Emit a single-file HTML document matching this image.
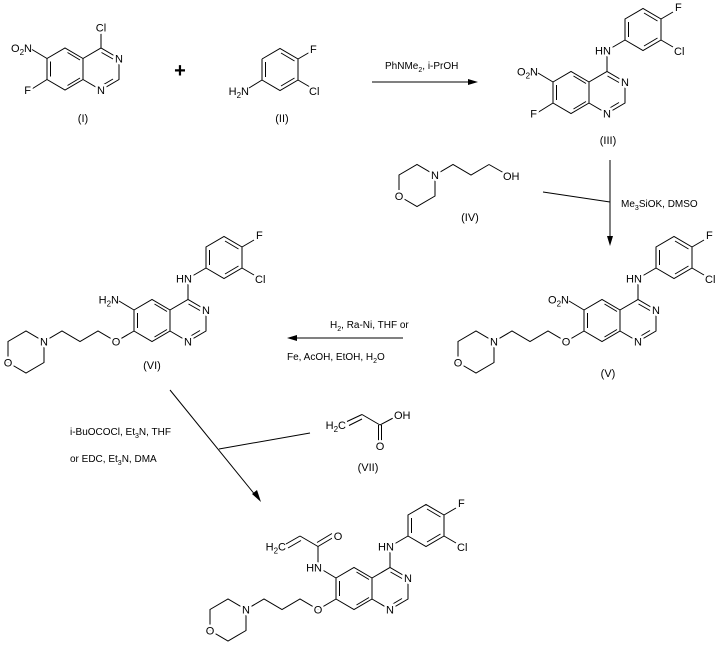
<!DOCTYPE html>
<html><head><meta charset="utf-8"><style>
html,body{margin:0;padding:0;background:#fff;}
svg{display:block;}
text{font-family:"Liberation Sans",Arial,sans-serif;font-size:11px;fill:#000;}
.l{paint-order:stroke;stroke:#fff;stroke-width:5px;stroke-linejoin:round;}
line,polyline,polygon.s{stroke:#000;stroke-width:1;fill:none;}
</style></head><body>
<svg width="720" height="651" viewBox="0 0 720 651" xmlns="http://www.w3.org/2000/svg">
<defs>
<g id="quin">
<polyline points="0,0 -18,-10.5 -36,0 -36,21 -18,31.5 0,21 0,0 18,-10.5 36,0 36,21 18,31.5 0,21"/>
<line x1="-15.5" y1="-6" x2="-3" y2="1.5"/>
<line x1="-32.5" y1="3" x2="-32.5" y2="18"/>
<line x1="-15.5" y1="27" x2="-3" y2="19.5"/>
<line x1="18.5" y1="-6" x2="30" y2="0.5"/>
<line x1="19" y1="27" x2="30" y2="20.5"/>
</g>
<g id="anil">
<line x1="18" y1="-10.5" x2="18" y2="-31.5"/>
<line x1="18" y1="-31.5" x2="36" y2="-42"/>
<polyline points="36,-42 36,-63 54,-73.5 72,-63 72,-42 54,-31.5 36,-42"/>
<line x1="39.5" y1="-60" x2="39.5" y2="-45"/>
<line x1="55" y1="-69" x2="68.5" y2="-61"/>
<line x1="68.5" y1="-44" x2="55" y2="-36"/>
<line x1="72" y1="-63" x2="84" y2="-70"/>
<line x1="72" y1="-42" x2="84" y2="-35"/>
</g>
<g id="chain">
<polyline points="-36,21 -54,31.5 -72,21 -90,31.5 -108,21 -126,31.5 -144,21 -162,31.5 -162,52.5 -144,63 -126,52.5 -126,31.5"/>
<line x1="-36" y1="0" x2="-51" y2="-9"/>
</g>
</defs>

<!-- Compound I -->
<g transform="translate(83,58.5)">
<use href="#quin"/>
<line x1="18" y1="-10.5" x2="18" y2="-27"/>
<line x1="-36" y1="0" x2="-51" y2="-9"/>
<line x1="-36" y1="21" x2="-52" y2="31"/>
<text class="l" x="36" y="4" text-anchor="middle">N</text>
<text class="l" x="18" y="35.5" text-anchor="middle">N</text>
<text class="l" x="18" y="-27" text-anchor="middle">Cl</text>
<text x="-51" y="-6.5" text-anchor="end">O<tspan font-size="8" dy="3">2</tspan><tspan dy="-3">N</tspan></text>
<text class="l" x="-52" y="35.5" text-anchor="end">F</text>
</g>
<text x="83" y="122" text-anchor="middle">(I)</text>
<text x="180" y="77" text-anchor="middle" style="font-size:20px;font-weight:bold">+</text>

<!-- Compound II -->
<polyline points="262,59 280,48.5 298,59 298,80 280,90.5 262,80 262,59"/>
<line x1="265.5" y1="62" x2="265.5" y2="77"/>
<line x1="281" y1="53" x2="294.5" y2="61"/>
<line x1="294.5" y1="78" x2="281" y2="86"/>
<line x1="298" y1="59" x2="310" y2="52"/>
<line x1="298" y1="80" x2="310" y2="87"/>
<line x1="262" y1="80" x2="249" y2="88"/>
<text class="l" x="310" y="53">F</text>
<text class="l" x="309" y="95">Cl</text>
<text x="249" y="95" text-anchor="end">H<tspan font-size="8" dy="3">2</tspan><tspan dy="-3">N</tspan></text>
<text x="282" y="122" text-anchor="middle">(II)</text>

<!-- Arrow 1 -->
<line x1="372" y1="82" x2="472" y2="82"/>
<polygon points="478,82 468,79 468,85" fill="#000"/>
<text x="385" y="69" style="font-size:10px">PhNMe<tspan font-size="7" dy="3">2</tspan><tspan dy="-3">, i-PrOH</tspan></text>

<!-- Compound III -->
<g transform="translate(589,82)">
<use href="#quin"/><use href="#anil"/>
<line x1="-36" y1="0" x2="-51" y2="-9"/>
<line x1="-36" y1="21" x2="-52" y2="31"/>
<text class="l" x="36" y="4" text-anchor="middle">N</text>
<text class="l" x="18" y="35.5" text-anchor="middle">N</text>
<text class="l" x="14" y="-27.5" text-anchor="middle">HN</text>
<text class="l" x="86" y="-71">F</text>
<text class="l" x="85" y="-27">Cl</text>
<text x="-51" y="-6.5" text-anchor="end">O<tspan font-size="8" dy="3">2</tspan><tspan dy="-3">N</tspan></text>
<text class="l" x="-52" y="35.5" text-anchor="end">F</text>
</g>
<text x="608" y="144" text-anchor="middle">(III)</text>

<!-- Compound IV -->
<polyline points="489,164.5 471,175 453,164.5 435,175 417,164.5 399,175 399,196 417,206.5 435,196 435,175"/>
<line x1="489" y1="164.5" x2="504" y2="173"/>
<text class="l" x="435" y="179" text-anchor="middle">N</text>
<text class="l" x="399" y="200" text-anchor="middle">O</text>
<text class="l" x="503" y="180">OH</text>
<text x="470" y="221" text-anchor="middle">(IV)</text>

<!-- Arrow 2 -->
<line x1="610" y1="160" x2="610" y2="240"/>
<polygon points="610,246 607,236 613,236" fill="#000"/>
<line x1="543" y1="192" x2="610" y2="202"/>
<text x="621" y="207" style="font-size:10px">Me<tspan font-size="7" dy="3">3</tspan><tspan dy="-3">SiOK, DMSO</tspan></text>

<!-- Compound V -->
<g transform="translate(620,310)">
<use href="#quin"/><use href="#anil"/><use href="#chain"/>
<text class="l" x="36" y="4" text-anchor="middle">N</text>
<text class="l" x="18" y="35.5" text-anchor="middle">N</text>
<text class="l" x="14" y="-27.5" text-anchor="middle">HN</text>
<text class="l" x="86" y="-71">F</text>
<text class="l" x="85" y="-27">Cl</text>
<text x="-51" y="-6.5" text-anchor="end">O<tspan font-size="8" dy="3">2</tspan><tspan dy="-3">N</tspan></text>
<text class="l" x="-54" y="35.5" text-anchor="middle">O</text>
<text class="l" x="-126" y="35.5" text-anchor="middle">N</text>
<text class="l" x="-162" y="56.5" text-anchor="middle">O</text>
</g>
<text x="608" y="377" text-anchor="middle">(V)</text>

<!-- Arrow 3 -->
<line x1="293" y1="338" x2="403" y2="338"/>
<polygon points="287,338 297,335 297,341" fill="#000"/>
<text x="330" y="328" style="font-size:10px">H<tspan font-size="7" dy="3">2</tspan><tspan dy="-3">, Ra-Ni, THF or</tspan></text>
<text x="287" y="360" style="font-size:10px">Fe, AcOH, EtOH, H<tspan font-size="7" dy="3">2</tspan><tspan dy="-3">O</tspan></text>

<!-- Compound VI -->
<g transform="translate(170,310)">
<use href="#quin"/><use href="#anil"/><use href="#chain"/>
<text class="l" x="36" y="4" text-anchor="middle">N</text>
<text class="l" x="18" y="35.5" text-anchor="middle">N</text>
<text class="l" x="14" y="-27.5" text-anchor="middle">HN</text>
<text class="l" x="86" y="-71">F</text>
<text class="l" x="85" y="-27">Cl</text>
<text x="-51" y="-6.5" text-anchor="end">H<tspan font-size="8" dy="3">2</tspan><tspan dy="-3">N</tspan></text>
<text class="l" x="-54" y="35.5" text-anchor="middle">O</text>
<text class="l" x="-126" y="35.5" text-anchor="middle">N</text>
<text class="l" x="-162" y="56.5" text-anchor="middle">O</text>
</g>
<text x="152" y="369" text-anchor="middle">(VI)</text>

<!-- Arrow 4 -->
<line x1="170" y1="390" x2="256" y2="496"/>
<polygon points="261,502 252,494 257,490" fill="#000"/>
<line x1="219" y1="449" x2="310" y2="433"/>
<text x="70" y="435" style="font-size:10px">i-BuOCOCl, Et<tspan font-size="7" dy="3">3</tspan><tspan dy="-3">N, THF</tspan></text>
<text x="70" y="462" style="font-size:10px">or EDC, Et<tspan font-size="7" dy="3">3</tspan><tspan dy="-3">N, DMA</tspan></text>

<!-- Compound VII -->
<line x1="347" y1="421.5" x2="362" y2="414.5"/>
<line x1="349" y1="425.5" x2="362" y2="419"/>
<line x1="362" y1="414.5" x2="380" y2="425"/>
<line x1="380" y1="425" x2="395" y2="417"/>
<line x1="378.5" y1="425" x2="378.5" y2="442"/>
<line x1="381.5" y1="425" x2="381.5" y2="442"/>
<text x="346" y="429" text-anchor="end">H<tspan font-size="8" dy="3">2</tspan><tspan dy="-3">C</tspan></text>
<text class="l" x="394" y="419">OH</text>
<text class="l" x="380" y="450" text-anchor="middle">O</text>
<text x="368" y="471" text-anchor="middle">(VII)</text>

<!-- Final compound -->
<g transform="translate(372,578)">
<use href="#quin"/><use href="#anil"/><use href="#chain"/>
<line x1="-54" y1="-10.5" x2="-54" y2="-31.5"/>
<line x1="-54" y1="-31.5" x2="-38" y2="-41"/>
<line x1="-55" y1="-35.5" x2="-40" y2="-44.5"/>
<line x1="-54" y1="-31.5" x2="-72" y2="-42"/>
<line x1="-72" y1="-42" x2="-86" y2="-34"/>
<line x1="-71" y1="-37.5" x2="-84" y2="-30"/>
<text class="l" x="36" y="4" text-anchor="middle">N</text>
<text class="l" x="18" y="35.5" text-anchor="middle">N</text>
<text class="l" x="14" y="-27.5" text-anchor="middle">HN</text>
<text class="l" x="86" y="-71">F</text>
<text class="l" x="85" y="-27">Cl</text>
<text class="l" x="-58" y="-6.5" text-anchor="middle">HN</text>
<text class="l" x="-34" y="-38" text-anchor="middle">O</text>
<text x="-86" y="-27.5" text-anchor="end">H<tspan font-size="8" dy="3">2</tspan><tspan dy="-3">C</tspan></text>
<text class="l" x="-54" y="35.5" text-anchor="middle">O</text>
<text class="l" x="-126" y="35.5" text-anchor="middle">N</text>
<text class="l" x="-162" y="56.5" text-anchor="middle">O</text>
</g>
</svg>
</body></html>
